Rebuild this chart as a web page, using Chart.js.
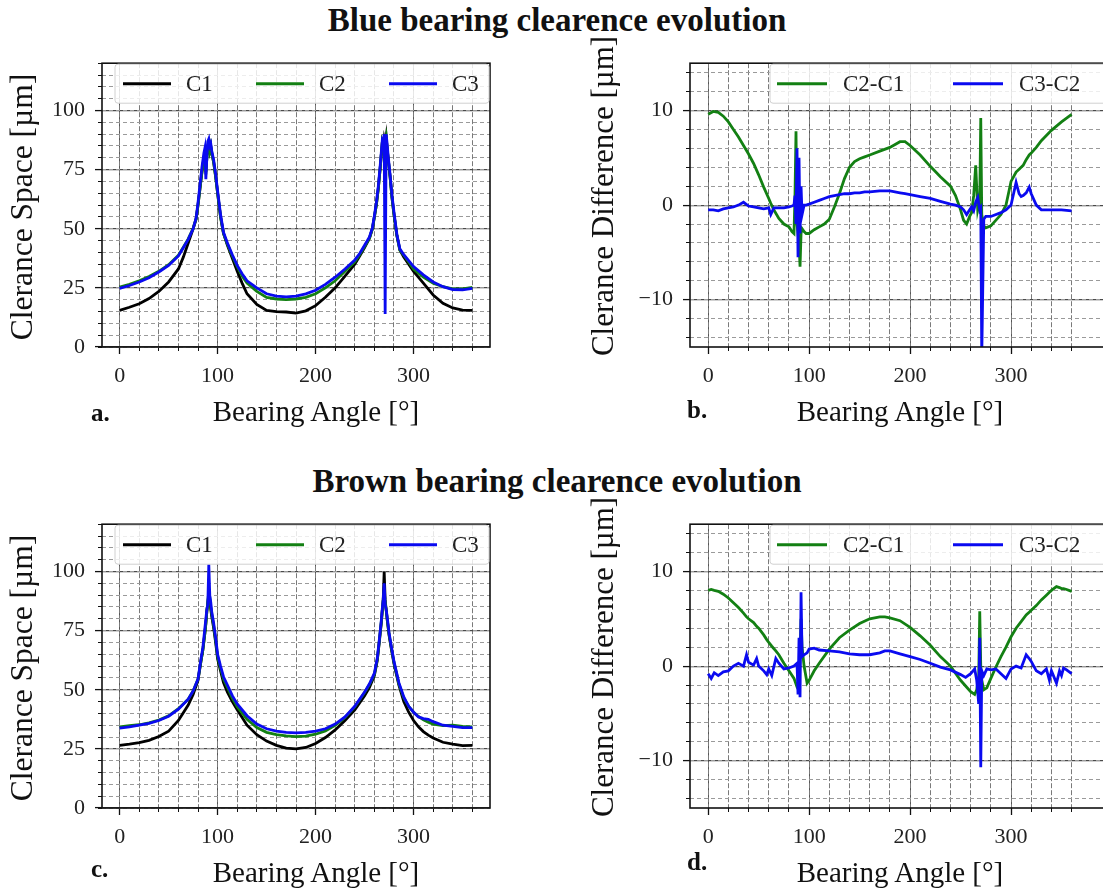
<!DOCTYPE html>
<html>
<head>
<meta charset="utf-8">
<script src="https://cdn.jsdelivr.net/npm/chart.js@4.4.1/dist/chart.umd.min.js"></script>
<style>
  html, body { margin: 0; padding: 0; background: #fff; }
  body { width: 1103px; height: 888px; overflow: hidden; position: relative;
         font-family: 'Liberation Serif', 'Times New Roman', serif; color: #111; }
  canvas { position: absolute; }
  .t { position: absolute; white-space: nowrap; line-height: 1; }
  .sup { font-weight: bold; font-size: 33px; width: 700px; text-align: center; left: 207px; }
  .xl { font-size: 29px; width: 420px; text-align: center; }
  .yl { font-size: 31px; transform: translate(-50%, -50%) rotate(-90deg); }
  .pl { font-weight: bold; font-size: 25px; }
</style>
</head>
<body>
<canvas id="pa" width="505" height="380" style="left:0;top:40px"></canvas>
<canvas id="pb" width="524" height="380" style="left:588px;top:40px"></canvas>
<canvas id="pc" width="505" height="380" style="left:0;top:501px"></canvas>
<canvas id="pd" width="524" height="380" style="left:588px;top:501px"></canvas>

<div class="t sup" style="top:4px">Blue bearing clearence evolution</div>
<div class="t sup" style="top:465px">Brown bearing clearence evolution</div>

<div class="t xl" style="left:106px;top:397px">Bearing Angle [°]</div>
<div class="t xl" style="left:690px;top:397px">Bearing Angle [°]</div>
<div class="t xl" style="left:106px;top:858px">Bearing Angle [°]</div>
<div class="t xl" style="left:690px;top:858px">Bearing Angle [°]</div>

<div class="t yl" style="left:22px;top:207px;font-size:31.5px">Clerance Space [µm]</div>
<div class="t yl" style="left:602px;top:196px">Clerance Difference [µm]</div>
<div class="t yl" style="left:22px;top:668px;font-size:31.5px">Clerance Space [µm]</div>
<div class="t yl" style="left:602px;top:657px">Clerance Difference [µm]</div>

<div class="t pl" style="left:91px;top:400px">a.</div>
<div class="t pl" style="left:687px;top:397px">b.</div>
<div class="t pl" style="left:91px;top:856px">c.</div>
<div class="t pl" style="left:687px;top:849px">d.</div>

<script>
// ---- data (angle in degrees, clearance in µm) ----

// blue bearing, clearance space
const angA = [0,10,20,30,40,50,60,65,70,75,78,80,82,84,86,87,88,89,90,91,
  92,93,94,96,98,100,103,106,110,115,120,125,130,140,150,160,170,180,190,200,
  210,220,230,240,245,250,255,258,260,262,264,266,267,268,269,270,271,272,273,274,
  276,278,280,283,286,290,295,300,310,320,330,340,350,360];
const c1A = [15.5,16.8,18.3,20.5,23.5,27.5,33,38,44,50,54,60,67,74,80,82,74,80,85,86,
  83,85,82,78,72,65,55,48,43,37.5,32,27,22.5,18,15.5,15,14.8,14.3,15.3,17.5,
  21,25,30,35,38.5,42,46,50,55,60,67,76,81,86,84,88,86,89,84,80,
  72,63,56,47,41,38,35,32,27,22,18.5,16.5,15.6,15.5];
const c2A = [25.3,26.5,28,29.8,32,34.8,38.8,42.2,45.7,50.2,54,60,67,74,80,82,73,80,85,86,
  83,85,82,78,72,65,55,48,43.5,38.5,34,30,27,23.5,21,20.3,20,20.3,21,22.5,
  25,28,32,36,39,42.5,46,50,55,60,67,76,81,86,84,88,87,89,84,80,
  72,63,56,47,41,38.8,36,33,29.5,27,25.5,24.6,24.6,25.2];
const c3A = [24.8,26,27.5,29.3,31.7,34.5,38.5,42,45.5,50,54.5,61,68.5,76,82,84,71,80,87,88,
  85,86,83,79,73,66,56,48.5,44,39,34.5,31,28,25,22.5,21.5,21.2,21.5,22.5,24,
  26.5,29.5,33,36.8,39.5,43,46.5,50.5,55.5,61,68,77,82,87,86,90,14,90,86,81,
  73,64,57,47.5,41.5,39,36.5,34,30.5,27.5,25.5,24.3,24.2,24.8];

// blue bearing, clearance difference
const angB = [0,5,10,15,20,25,30,35,40,45,50,55,60,62,65,70,75,80,83,85,
  86,87,88,89,90,91,92,93,95,97,100,105,110,115,120,125,130,135,140,145,
  150,155,160,170,180,190,195,200,210,220,230,240,245,250,253,256,259,261,263,265,
  267,269,270,271,273,275,280,290,295,300,305,308,310,312,315,318,320,325,330,340,
  350,360];
const d21B = [9.6,9.9,9.8,9.4,8.8,8,7.2,6.3,5.4,4.4,3.2,1.9,0.7,0.2,-0.5,-1.4,-2,-2.3,-2.8,-3,
  1,7.8,-2,-3,-4,-6.5,-3,-2.5,-2.8,-3,-3,-2.6,-2.3,-2,-1.5,-0.2,1.2,2.8,4,4.6,
  4.9,5.1,5.3,5.7,6.1,6.7,6.7,6.3,5.3,4.1,3,2,1,-0.5,-1.6,-2,-1.2,-0.8,1,4.2,
  -0.5,0.5,9.2,-1,-2.2,-2.4,-2.2,-1,0,2.5,3.5,3.8,4,4.2,4.8,5.3,5.5,6.1,6.8,7.9,
  8.8,9.6];
const d32B = [-0.5,-0.5,-0.6,-0.4,-0.3,-0.2,0,0.3,-0.1,-0.2,-0.3,-0.4,-0.3,-1,-0.3,-0.3,-0.3,-0.2,-0.1,0,
  1,-2,6,-5.5,5,-3,2,-1,0,0,0.1,0.3,0.5,0.7,0.9,1,1.1,1.2,1.2,1.3,
  1.3,1.4,1.4,1.5,1.5,1.3,1.2,1.1,0.9,0.7,0.4,0.1,0,-0.2,-0.5,-1,-0.5,-0.2,-0.6,0.3,
  0.8,-0.5,-0.3,-16,-1.5,-1.2,-1.2,-0.8,-0.5,0,2.4,1.2,0.9,1,1.3,1.9,1.2,0,-0.5,-0.5,
  -0.5,-0.6];

// brown bearing, clearance space
const angC = [0,10,20,30,40,50,60,70,75,80,83,85,87,88,89,90,91,92,93,94,
  96,98,100,103,106,110,115,120,130,140,150,160,170,180,190,200,210,220,230,240,
  250,255,260,263,265,267,268,269,270,271,272,273,275,277,280,285,290,295,300,305,
  310,315,320,330,340,350,360];
const c1C = [26.5,27,27.6,28.6,30.2,32.5,37,43.5,48,54,62,67,74,78,83,87,90,88,84,81,
  76,70,63,58,53,49,45,41.5,35,31,28.3,26.5,25.3,25,25.6,27.3,29.8,33,37,41.5,
  47.5,51,56,62.5,70,78,83,88,100,88,84,80,73,68,61,52,45,40.5,37,34.3,
  32.3,30.8,29.6,27.8,27,26.4,26.5];
const c2C = [34.3,34.8,35.2,36,37.2,39,42,46,49.5,54.5,62,67,74,78,83,87,92,89,85,82,
  77,71,64,59,54.5,51,46.5,42.8,37.5,34,32,31,30.5,30.2,30.4,31.2,32.6,35,38.3,42.8,
  48.8,52.2,56.5,63,70.5,78.5,83,88,92,87,84,80,73.5,68.5,61.5,52.5,46.5,43,40.5,38.7,
  37.3,36.3,35.5,34.8,35,34.5,34.3];
const c3C = [33.8,34.3,35,35.8,37,38.8,41.8,46,49.5,54.5,63,68,76,80,84,86,103,90,87,83,
  78,72,65,60,55.5,52,47.5,44,39,35.5,33.5,32.5,32,31.8,32,32.5,33.5,35.5,38.5,43,
  49,52.5,57,63.5,71,79,84,88,95,86,84,81,74,69,62,53,47,43,40.5,38.5,
  37.8,37.5,36.5,35,34.5,34,34];

// brown bearing, clearance difference
const angD = [0,3,6,10,15,20,25,30,35,38,40,45,48,50,55,58,60,63,67,70,
  75,80,85,88,89,90,91,92,93,95,98,100,105,110,120,130,140,150,160,170,
  175,180,190,200,210,220,230,240,250,255,260,264,266,268,269,270,271,273,276,280,
  285,290,295,300,305,310,315,318,320,325,330,335,338,340,345,348,350,352,355,360];
const d21D = [8,8.1,8,7.9,7.6,7.2,6.7,6.2,5.6,5.2,5,4.6,4.2,4,3.3,2.8,2.5,2.1,1.6,1.2,
  0.3,-0.5,-1.3,-2.2,-2.4,-2,1,5,2,0,-1.8,-1.5,-0.5,0.3,1.8,3,3.8,4.5,5,5.2,
  5.2,5.1,4.8,4.1,3.2,2.2,1,0,-1.5,-2.1,-2.7,-3,-2.5,-1,5.8,0,-1.5,-2.5,-2.3,-1.3,
  -0.1,1,2,3.1,4,4.7,5.4,5.7,5.9,6.4,7,7.5,7.8,8,8.4,8.3,8.2,8.2,8.1,7.9];
const d32D = [-0.8,-1.3,-0.7,-1,-0.6,-0.5,0,0.3,0,1.2,0.4,0.1,0.8,0,-0.5,-0.9,-0.3,-1,0.8,0.3,
  -0.3,-0.2,0,0.3,-3,3,-3.3,7.8,1,1.2,1.4,1.8,1.9,1.7,1.6,1.5,1.3,1.2,1.2,1.4,
  1.6,1.6,1.3,1,0.7,0.3,-0.1,-0.4,-0.9,-1.2,-0.8,-0.3,-1.5,-4,3,-10.7,-0.5,-1,-0.3,-0.4,
  -0.3,-0.8,-1.3,-0.3,0,-0.2,1.2,0.8,0.5,-0.5,-0.8,-0.3,-1.5,-0.5,-1.8,-0.5,-1,-0.2,-0.4,-0.8];

// tick positions
const xMajor = [0, 100, 200, 300];
const xMinor = [0,20,40,60,80,100,120,140,160,180,200,220,240,260,280,300,320,340,360];
const ySpaceMajor = [0, 25, 50, 75, 100];
const ySpaceMinor = [0,5,10,15,20,25,30,35,40,45,50,55,60,65,70,75,80,85,90,95,100,105,110,115,120];
const yDiffMajor = [-10, 0, 10];
const yDiffMinor = [-14,-12,-10,-8,-6,-4,-2,0,2,4,6,8,10,12,14];

const BLACK = '#000000', GREEN = '#138013', BLUE = '#0a0af0';
const SERIF = "'Liberation Serif', 'Times New Roman', serif";

// frame around the axes + matplotlib-like legend box
const frameLegend = {
  id: 'boxLegend',
  afterDatasetsDraw(chart, args, o) {
    const { ctx, chartArea: ca } = chart;
    ctx.save();
    ctx.strokeStyle = '#111';
    ctx.lineWidth = 1.6;
    ctx.strokeRect(ca.left, ca.top, ca.right - ca.left, ca.bottom - ca.top);

    const bx = ca.left + o.left, by = ca.top + 1;
    const bw = ca.right - bx - 1, bh = o.height;
    ctx.beginPath();
    ctx.roundRect(bx, by, bw, bh, 3);
    ctx.fillStyle = 'rgba(255,255,255,0.82)';
    ctx.fill();
    ctx.strokeStyle = '#d0d0d0';
    ctx.lineWidth = 1;
    ctx.stroke();

    ctx.font = '23px ' + SERIF;
    ctx.textBaseline = 'middle';
    chart.data.datasets.forEach((ds, i) => {
      const x = bx + o.pad + i * o.col, y = by + bh / 2;
      ctx.strokeStyle = ds.borderColor;
      ctx.lineWidth = 3;
      ctx.beginPath();
      ctx.moveTo(x, y);
      ctx.lineTo(x + o.line, y);
      ctx.stroke();
      ctx.fillStyle = '#222';
      ctx.fillText(ds.label, x + o.line + o.gap, y + 1);
    });
    ctx.restore();
  }
};

function series(label, ang, vals, color, order) {
  return {
    label: label,
    data: ang.map((a, i) => ({ x: a, y: vals[i] })),
    borderColor: color,
    backgroundColor: color,
    borderWidth: 2.8,
    pointRadius: 0,
    tension: 0,
    order: order
  };
}

const fmt = v => (v < 0 ? '\u2212' + Math.abs(v) : String(v));

function panel(id, datasets, yMin, yMax, yMajor, yMinor, xMax, padRight, legend) {
  return new Chart(document.getElementById(id), {
    type: 'line',
    data: { datasets: datasets },
    options: {
      responsive: false,
      animation: false,
      events: [],
      layout: { padding: { top: 10, right: padRight, left: 0, bottom: 0 } },
      plugins: {
        legend: { display: false },
        tooltip: { enabled: false },
        boxLegend: legend
      },
      scales: {
        x: {
          type: 'linear', min: -18, max: xMax, weight: 1,
          afterBuildTicks: s => { s.ticks = xMajor.map(v => ({ value: v })); },
          afterFit: s => { s.height = 73; },
          ticks: { font: { family: SERIF, size: 22 }, color: '#222', padding: 9,
                   maxRotation: 0, autoSkip: false, callback: fmt },
          grid: { color: '#555', lineWidth: 1, tickLength: 7, tickColor: '#111', tickWidth: 1.3 },
          border: { display: false }
        },
        xm: {
          type: 'linear', position: 'bottom', min: -18, max: xMax, weight: 0,
          afterBuildTicks: s => { s.ticks = xMinor.map(v => ({ value: v })); },
          afterFit: s => { s.height = 0; },
          ticks: { display: false },
          grid: { color: '#7a7a7a', lineWidth: 1, tickLength: 4, tickColor: '#111', tickWidth: 1 },
          border: { display: false, dash: [5, 2] }
        },
        y: {
          type: 'linear', position: 'left', min: yMin, max: yMax, weight: 1,
          afterBuildTicks: s => { s.ticks = yMajor.map(v => ({ value: v })); },
          afterFit: s => { s.width = 102; },
          ticks: { font: { family: SERIF, size: 22 }, color: '#222', padding: 10,
                   autoSkip: false, callback: fmt },
          grid: { color: '#4a4a4a', lineWidth: 1.2, tickLength: 7, tickColor: '#111', tickWidth: 1.3 },
          border: { display: false }
        },
        ym: {
          type: 'linear', position: 'left', min: yMin, max: yMax, weight: 0,
          afterBuildTicks: s => { s.ticks = yMinor.map(v => ({ value: v })); },
          afterFit: s => { s.width = 0; },
          ticks: { display: false },
          grid: { color: '#9a9a9a', lineWidth: 1, tickLength: 4, tickColor: '#111', tickWidth: 1 },
          border: { display: false, dash: [4, 3] }
        }
      }
    },
    plugins: [frameLegend]
  });
}

const legSpace = { left: 13, height: 39, pad: 8, col: 133, line: 48, gap: 15 };
const legDiff = { left: 80, height: 39, pad: 7, col: 176, line: 50, gap: 16 };

panel('pa', [
  series('C1', angA, c1A, BLACK, 2),
  series('C2', angA, c2A, GREEN, 1),
  series('C3', angA, c3A, BLUE, 0)
], 0, 120, ySpaceMajor, ySpaceMinor, 378, 15, legSpace);

panel('pb', [
  series('C2-C1', angB, d21B, GREEN, 1),
  series('C3-C2', angB, d32B, BLUE, 0)
], -15, 15, yDiffMajor, yDiffMinor, 400, 0, legDiff);

panel('pc', [
  series('C1', angC, c1C, BLACK, 2),
  series('C2', angC, c2C, GREEN, 1),
  series('C3', angC, c3C, BLUE, 0)
], 0, 120, ySpaceMajor, ySpaceMinor, 378, 15, legSpace);

panel('pd', [
  series('C2-C1', angD, d21D, GREEN, 1),
  series('C3-C2', angD, d32D, BLUE, 0)
], -15, 15, yDiffMajor, yDiffMinor, 400, 0, legDiff);
</script>
</body>
</html>
